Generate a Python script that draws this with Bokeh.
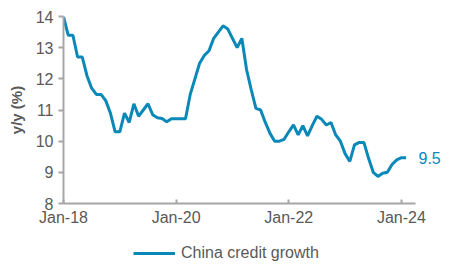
from bokeh.plotting import figure
from bokeh.models import FixedTicker, Legend, Range1d, LinearAxis
from bokeh.layouts import column
from bokeh.embed import file_html
from bokeh.resources import INLINE

# month index 0 = Jan-18
months = list(range(74))
values = [14.0, 13.4, 13.4, 12.7, 12.7, 12.1, 11.7, 11.5, 11.5, 11.3,
          10.9, 10.3, 10.3, 10.9, 10.6, 11.2, 10.8, 11.0, 11.2, 10.85,
          10.75, 10.73, 10.62, 10.72, 10.72, 10.72, 10.72, 11.5, 12.0, 12.5,
          12.75, 12.9, 13.3, 13.5, 13.7, 13.6, 13.3, 13.0, 13.3, 12.3,
          11.65, 11.05, 11.0, 10.6, 10.25, 10.0, 10.0, 10.06, 10.3, 10.52,
          10.2, 10.5, 10.17, 10.5, 10.8, 10.7, 10.52, 10.6, 10.2, 10.0,
          9.6, 9.35, 9.88, 9.96, 9.96, 9.45, 9.0, 8.87, 8.97, 9.0,
          9.25, 9.4, 9.47, 9.47]
x_ticks = [0, 24, 48, 72]
x_tick_labels = ["Jan-18", "Jan-20", "Jan-22", "Jan-24"]
y_ticks = [8, 9, 10, 11, 12, 13, 14]
series_name = "China credit growth"
y_title = "y/y (%)"

LINE = "#0a88b8"
GREY = "#595959"
AXIS = "#a6a6a6"
FONT = "Liberation Sans"

p = figure(width=450, height=228, output_backend="svg", toolbar_location=None,
           x_range=Range1d(0, 75), y_range=Range1d(8, 14),
           min_border_left=63, min_border_right=35, min_border_top=16,
           min_border_bottom=24)
p.outline_line_color = None
p.grid.visible = False
p.background_fill_color = "white"
p.border_fill_color = "white"

r = p.line(months, values, line_color=LINE, line_width=3)

xa = p.xaxis[0]
xa.ticker = FixedTicker(ticks=x_ticks)
xa.major_label_overrides = {t: l for t, l in zip(x_ticks, x_tick_labels)}
xa.major_tick_in = 4
xa.major_tick_out = 0
xa.minor_tick_line_color = None
xa.axis_line_color = AXIS
xa.axis_line_width = 2
xa.major_tick_line_color = AXIS
xa.major_tick_line_width = 2
xa.major_label_text_color = GREY
xa.major_label_text_font = FONT
xa.major_label_text_font_size = "16px"
xa.major_label_standoff = 5

ya = p.yaxis[0]
ya.ticker = FixedTicker(ticks=y_ticks)
ya.major_tick_in = 0
ya.major_tick_out = 5
ya.minor_tick_line_color = None
ya.axis_line_color = AXIS
ya.axis_line_width = 2
ya.major_tick_line_color = AXIS
ya.major_tick_line_width = 2
ya.major_label_text_color = GREY
ya.major_label_text_font = FONT
ya.major_label_text_font_size = "16px"
ya.major_label_standoff = 5
ya.axis_label = y_title
ya.axis_label_text_font = FONT
ya.axis_label_text_font_style = "bold"
ya.axis_label_text_font_size = "15px"
ya.axis_label_text_color = GREY
ya.axis_label_standoff = 8

# end-value label via a bare right axis
end_axis = LinearAxis(ticker=FixedTicker(ticks=[values[-1]]),
                      major_label_overrides={values[-1]: f"{values[-1]:.1f}"})
end_axis.axis_line_color = None
end_axis.major_tick_line_color = None
end_axis.minor_tick_line_color = None
end_axis.major_tick_out = 0
end_axis.major_tick_in = 0
end_axis.major_label_standoff = 3
end_axis.major_label_text_color = LINE
end_axis.major_label_text_font = FONT
end_axis.major_label_text_font_size = "16px"
p.add_layout(end_axis, "right")

# legend strip below the chart (series drawn outside its visible range)
p2 = figure(width=450, height=42, output_backend="svg", toolbar_location=None,
            x_range=Range1d(0, 75), y_range=Range1d(0, 1),
            x_axis_type=None, y_axis_type=None, min_border=0)
p2.outline_line_color = None
p2.grid.visible = False
p2.background_fill_color = "white"
p2.border_fill_color = "white"
r2 = p2.line(months, values, line_color=LINE, line_width=3)

legend = Legend(items=[(series_name, [r2])], location=(68, 6),
                orientation="horizontal", border_line_alpha=0,
                background_fill_alpha=0, label_text_font=FONT,
                label_text_font_size="16px", label_text_color=GREY,
                glyph_width=42, glyph_height=16, padding=2, margin=0,
                label_standoff=6)
p2.add_layout(legend, "center")

layout = column(p, p2, spacing=0)
open("out.html", "w").write(file_html(layout, INLINE))
